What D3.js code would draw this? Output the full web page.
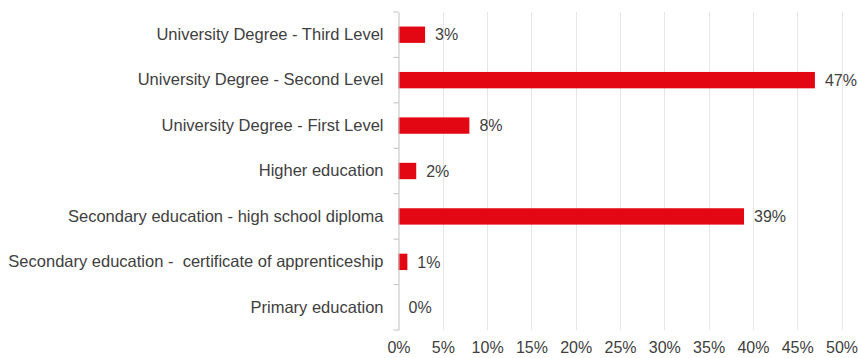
<!DOCTYPE html>
<html>
<head>
<meta charset="utf-8">
<script src="https://cdn.jsdelivr.net/npm/d3@7"></script>
<style>
  html, body { margin: 0; padding: 0; background: #fff; }
  text { font-family: "Liberation Sans", Arial, sans-serif; fill: #404040; }
</style>
</head>
<body>
<svg id="chart" width="858" height="358"></svg>
<script>
// Education level categories, top to bottom
const categories = [
  "University Degree - Third Level",
  "University Degree - Second Level",
  "University Degree - First Level",
  "Higher education",
  "Secondary education - high school diploma",
  "Secondary education -  certificate of apprenticeship",
  "Primary education"
];
// Share of respondents (%)
const shares = [3, 47, 8, 2, 39, 1, 0];
// Axis ticks (%)
const xTicks = [0, 5, 10, 15, 20, 25, 30, 35, 40, 45, 50];

const svg = d3.select("#chart");
const margin = { top: 12, left: 398.5, right: 16.5, bottom: 28 };
const W = 858, H = 358;

const x = d3.scaleLinear().domain([0, 50]).range([margin.left, W - margin.right]);
const y = d3.scaleBand().domain(categories).range([margin.top, H - margin.bottom]).paddingInner(0.64).paddingOuter(0.32);

// Vertical gridlines
svg.append("g").selectAll("line").data(xTicks.slice(1)).join("line")
  .attr("x1", d => Math.round(x(d)) + 0.5).attr("x2", d => Math.round(x(d)) + 0.5)
  .attr("y1", margin.top).attr("y2", H - margin.bottom)
  .attr("stroke", "#e6e6e6").attr("stroke-width", 1);

// Bars
svg.append("g").selectAll("rect").data(categories).join("rect")
  .attr("x", x(0))
  .attr("y", d => y(d))
  .attr("width", (d, i) => x(shares[i]) - x(0))
  .attr("height", y.bandwidth())
  .attr("fill", "#e30613");

// Value labels
svg.append("g").selectAll("text").data(categories).join("text")
  .attr("x", (d, i) => x(shares[i]) + 10)
  .attr("y", d => y(d) + y.bandwidth() / 2)
  .attr("dy", "0.36em")
  .style("font-size", "16px")
  .text((d, i) => shares[i] + "%");

// Category axis
const yAxis = d3.axisLeft(y).tickSize(0).tickPadding(15);
const gy = svg.append("g").attr("transform", `translate(${margin.left},0)`).call(yAxis);
gy.select(".domain").attr("stroke", "#bfbfbf");
gy.selectAll("text").style("font-size", "16.5px").style("white-space", "pre").attr("fill", "#404040");

// Category boundary ticks
const step = y.step();
svg.append("g").selectAll("line").data(d3.range(categories.length + 1)).join("line")
  .attr("x1", margin.left - 5).attr("x2", margin.left)
  .attr("y1", i => margin.top + i * step).attr("y2", i => margin.top + i * step)
  .attr("stroke", "#bfbfbf");

// Value axis labels
const xAxis = d3.axisBottom(x).tickValues(xTicks).tickSize(0).tickPadding(11.5).tickFormat(d => d + "%");
const gx = svg.append("g").attr("transform", `translate(0,${H - margin.bottom})`).call(xAxis);
gx.select(".domain").remove();
gx.selectAll("text").style("font-size", "16px").attr("fill", "#404040");
</script>
</body>
</html>
